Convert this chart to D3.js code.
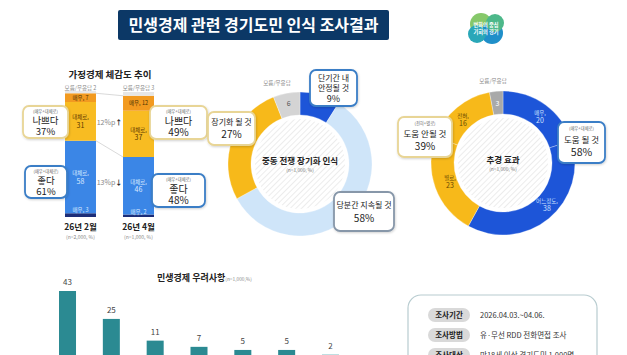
<!DOCTYPE html>
<html><head><meta charset="utf-8">
<script src="https://cdn.jsdelivr.net/npm/d3@7"></script>
<style>
html,body{margin:0;padding:0;background:#fff;}
svg{display:block;font-family:"Noto Sans CJK KR","Noto Sans",sans-serif;}
</style></head>
<body>
<svg id="c" width="627" height="355"></svg>
<script>
// ---------- DATA ----------
const titleText = "민생경제 관련 경기도민 인식 조사결과";
// household economy (stack bottom -> top)
const hhPeriods = ["26년 2월", "26년 4월"];
const hhSamples = ["(n=2,000, %)", "(n=1,000, %)"];
const hhVeryGood = [3, 2];
const hhGood = [58, 46];
const hhBad = [31, 37];
const hhVeryBad = [7, 12];
const hhUnknown = [2, 3];
const hhBadTotal = [37, 49];
const hhGoodTotal = [61, 48];
const hhChange = ["12%p", "13%p"];
// middle east war donut
const warLabels = ["단기간 내 안정될 것", "당분간 지속될 것", "장기화 될 것", "모름/무응답"];
const warValues = [9, 58, 27, 6];
// supplementary budget donut
const budgetLabels = ["매우", "어느정도", "별로", "전혀", "모름/무응답"];
const budgetValues = [20, 38, 23, 16, 3];
const budgetHelp = 58, budgetNoHelp = 39;
// concerns bar chart
const concernItems = ["항목1", "항목2", "항목3", "항목4", "항목5", "항목6", "항목7"];
const concernValues = [43, 25, 11, 7, 5, 5, 2];
// survey info
const infoKeys = ["조사기간", "조사방법", "조사대상"];
const infoVals = ["2026.04.03.~04.06.", "유·무선 RDD 전화면접 조사", "만18세 이상 경기도민 1,000명"];

// ---------- DRAW ----------
const svg = d3.select("#c");
const defs = svg.append("defs");
const pat = defs.append("pattern").attr("id","hatch").attr("patternUnits","userSpaceOnUse")
  .attr("width",4).attr("height",4).attr("patternTransform","rotate(45)");
pat.append("rect").attr("width",4).attr("height",4).attr("fill","#fff");
pat.append("line").attr("x1",0).attr("y1",0).attr("x2",0).attr("y2",4).attr("stroke","#e6e6e6").attr("stroke-width",1.5);
const sh = defs.append("filter").attr("id","shadow").attr("x","-20%").attr("y","-20%").attr("width","140%").attr("height","150%");
sh.append("feDropShadow").attr("dx",0.6).attr("dy",1).attr("stdDeviation",0.8).attr("flood-color","#000").attr("flood-opacity",0.18);

// title banner
svg.append("rect").attr("x",118).attr("y",10).attr("width",271).attr("height",30).attr("rx",2).attr("fill","#0c3866");
svg.append("text").attr("x",253.5).attr("y",31).attr("text-anchor","middle").attr("fill","#fff")
  .attr("font-size",16).attr("font-weight",700).text(titleText);

// logo
const logo = svg.append("g");
logo.append("circle").attr("cx",481).attr("cy",24).attr("r",11).attr("fill","#86c86a");
logo.append("circle").attr("cx",492).attr("cy",33).attr("r",11).attr("fill","#1f8fc9");
logo.append("circle").attr("cx",477).attr("cy",34).attr("r",9).attr("fill","#2aa7b8");
logo.append("circle").attr("cx",495).attr("cy",23).attr("r",9).attr("fill","#4db88a");
const lt = logo.append("text").attr("text-anchor","middle").attr("fill","#fff").attr("font-size",5.2).attr("font-weight",700);
lt.append("tspan").attr("x",486).attr("y",27).text("변화의 중심");
lt.append("tspan").attr("x",486).attr("dy",7).text("기회의 경기");

// multi-line text helper (one <text>, several tspans)
function mtext(parent,x,y,lines,anchor){
  const t = parent.append("text").attr("x",x).attr("y",y).attr("text-anchor",anchor||"middle");
  lines.forEach((l,i)=>{
    const s = t.append("tspan").attr("x",x).attr("font-size",l.fs).attr("fill",l.fill||"#222").attr("font-weight",l.fw||400).text(l.t);
    if(i>0) s.attr("dy",l.dy);
  });
  return t;
}

// ---- household stacked bars ----
svg.append("text").attr("x",110).attr("y",78).attr("text-anchor","middle").attr("font-size",9.5).attr("font-weight",700).attr("fill","#222").text("가정경제 체감도 추이");
const yH = d3.scaleLinear().domain([0,100]).range([217, 92]);
const xH = d3.scaleBand().domain(hhPeriods).range([65,154]).paddingInner(0.466).paddingOuter(0);
const keys = ["vg","g","b","vb","u"];
const colors = {vg:"#1c2d78", g:"#3b86e6", b:"#f8bc22", vb:"#f29a20", u:"#e6e6e6"};
const rows = hhPeriods.map((p,i)=>({p, vg:hhVeryGood[i], g:hhGood[i], b:hhBad[i], vb:hhVeryBad[i], u:hhUnknown[i]}));
const stack = d3.stack().keys(keys)(rows);
const gH = svg.append("g");
const bw = xH.bandwidth();
// connector lines
gH.append("line").attr("x1",xH(hhPeriods[0])+bw).attr("x2",xH(hhPeriods[1]))
  .attr("y1",yH(stack[3][0][1])).attr("y2",yH(stack[3][1][1])).attr("stroke","#cfcfcf").attr("stroke-width",0.8);
gH.append("line").attr("x1",xH(hhPeriods[0])+bw).attr("x2",xH(hhPeriods[1]))
  .attr("y1",yH(stack[1][0][1])).attr("y2",yH(stack[1][1][1])).attr("stroke","#cfcfcf").attr("stroke-width",0.8);
stack.forEach(s=>{
  gH.selectAll(null).data(s).enter().append("rect")
    .attr("x",d=>xH(d.data.p)).attr("width",bw)
    .attr("y",d=>yH(d[1])).attr("height",d=>yH(d[0])-yH(d[1]))
    .attr("fill",colors[s.key]);
});
// segment labels
rows.forEach((r,i)=>{
  const cx = xH(r.p)+bw/2;
  const st = k=>stack[keys.indexOf(k)][i];
  const mid = k=>(yH(st(k)[0])+yH(st(k)[1]))/2;
  gH.append("text").attr("x",cx).attr("y",mid("vb")+2).attr("text-anchor","middle").attr("font-size",5.5).attr("fill","#4a3000").text("매우, "+r.vb);
  mtext(gH,cx,mid("b")-2,[{t:"대체로,",fs:5.5,fill:"#5a3a00"},{t:r.b,fs:7,fill:"#5a3a00",dy:8.5}]);
  mtext(gH,cx,mid("g")-2,[{t:"대체로,",fs:5.5,fill:"#dbe9ff"},{t:r.g,fs:7,fill:"#dbe9ff",dy:8.5}]);
  gH.append("text").attr("x",cx).attr("y",yH(st("vg")[1])-0.8).attr("text-anchor","middle").attr("font-size",5.5).attr("fill","#dbe9ff").text("매우, "+r.vg);
  gH.append("text").attr("x",cx).attr("y",yH(100)-2.5).attr("text-anchor","middle").attr("font-size",5.5).attr("fill","#888").text("모름/무응답  "+r.u);
  mtext(gH,cx,230,[{t:r.p,fs:8.5,fw:700},{t:hhSamples[i],fs:5,fill:"#888",dy:9}]);
});
// change labels
const midX = (xH(hhPeriods[0])+bw + xH(hhPeriods[1]))/2;
gH.append("text").attr("x",midX).attr("y",125).attr("text-anchor","middle").attr("font-size",7).attr("fill","#888")
  .text(hhChange[0]).append("tspan").attr("fill","#222").attr("font-weight",700).text("↑");
gH.append("text").attr("x",midX).attr("y",185).attr("text-anchor","middle").attr("font-size",7).attr("fill","#888")
  .text(hhChange[1]).append("tspan").attr("fill","#222").attr("font-weight",700).text("↓");

// callout helper
function callout(x,y,w,h,border,firstDy,lines){
  const g = svg.append("g");
  g.append("rect").attr("x",x).attr("y",y).attr("width",w).attr("height",h).attr("rx",6)
    .attr("fill","#fff").attr("stroke",border).attr("stroke-width",1.8).attr("filter","url(#shadow)");
  mtext(g,x+w/2,y+firstDy,lines);
}
const yb = "#e8d596", bb = "#3b7ec6", gb = "#8797a9";
const small = t=>({t,fs:4.3,fill:"#666"});
callout(23,106,45,32,yb,6.8,[small("(매우+대체로)"),{t:"나쁘다",fs:9.5,dy:11.2},{t:hhBadTotal[0]+"%",fs:9.5,dy:11}]);
callout(25,166,42,32,bb,6.8,[small("(매우+대체로)"),{t:"좋다",fs:9.5,dy:11.2},{t:hhGoodTotal[0]+"%",fs:9.5,dy:11}]);
callout(150,106,57,33,yb,6.8,[small("(매우+대체로)"),{t:"나쁘다",fs:10,dy:11.7},{t:hhBadTotal[1]+"%",fs:10,dy:11.5}]);
callout(152,174,53,33,bb,6.8,[small("(매우+대체로)"),{t:"좋다",fs:10,dy:11.7},{t:hhGoodTotal[1]+"%",fs:10,dy:11.5}]);

// ---- donut helper ----
function donut(cx,cy,values,cols,title){
  const g = svg.append("g").attr("transform",`translate(${cx},${cy})`);
  const pie = d3.pie().sort(null).value(d=>d)(values);
  const arc = d3.arc().innerRadius(49).outerRadius(72);
  g.selectAll(null).data(pie).enter().append("path").attr("d",arc).attr("fill",(d,i)=>cols[i])
    .attr("stroke","rgba(255,255,255,0.5)").attr("stroke-width",0.6);
  g.append("circle").attr("r",45).attr("fill","url(#hatch)");
  mtext(g,0,0,[{t:title,fs:8.5,fw:700},{t:"(n=1,000, %)",fs:4.8,fill:"#777",dy:8}]);
  return {g, pie, arc};
}
// war donut
const d1 = donut(300,164,warValues,["#1d55d8","#cfe5f9","#f7b91a","#d4d4d4"],"중동 전쟁 장기화 인식");
const lab1 = d3.arc().innerRadius(61).outerRadius(61);
d1.g.append("text").attr("transform",`translate(${lab1.centroid(d1.pie[3])})`).attr("y",2).attr("text-anchor","middle")
  .attr("font-size",7).attr("fill","#555").text(warValues[3]);
d1.g.append("text").attr("x",-23).attr("y",-79).attr("text-anchor","middle").attr("font-size",5.5).attr("fill","#888").text(warLabels[3]);
callout(310,70,47,36,bb,10.5,[{t:"단기간 내",fs:8},{t:"안정될 것",fs:8,dy:10},{t:warValues[0]+"%",fs:9,dy:11}]);
callout(208,112,47,33,yb,13,[{t:warLabels[2],fs:8},{t:warValues[2]+"%",fs:10,dy:13}]);
callout(334,192,60,39,gb,16,[{t:warLabels[1],fs:8},{t:warValues[1]+"%",fs:10,dy:14}]);

// budget donut
const d2 = donut(503,163,budgetValues,["#1d55d8","#1d55d8","#f7b91a","#f7b91a","#a9a9a9"],"추경 효과");
const lab2 = d3.arc().innerRadius(60).outerRadius(60);
const bTxt = [{i:0,c:"#cfe0ff",x:37,y:-48},{i:1,c:"#cfe0ff",x:44,y:40},{i:2,c:"#6a4a00",x:-53,y:17},{i:3,c:"#6a4a00",x:-40,y:-45}];
bTxt.forEach(b=>{
  mtext(d2.g,b.x,b.y,[{t:budgetLabels[b.i]+",",fs:5.5,fill:b.c},{t:budgetValues[b.i],fs:7,fill:b.c,dy:8}]);
});
d2.g.append("text").attr("transform",`translate(${lab2.centroid(d2.pie[4])})`).attr("y",2.5).attr("text-anchor","middle")
  .attr("font-size",7).attr("fill","#fff").text(budgetValues[4]);
d2.g.append("text").attr("x",-10).attr("y",-80).attr("text-anchor","middle").attr("font-size",5.5).attr("fill","#888").text(budgetLabels[4]);
callout(398,117,54,40,yb,7.5,[small("(전혀+별로)"),{t:"도움 안될 것",fs:8.5,dy:12.5},{t:budgetNoHelp+"%",fs:10,dy:13}]);
callout(558,122,47,41,bb,8,[small("(매우+대체로)"),{t:"도움 될 것",fs:8.5,dy:12.5},{t:budgetHelp+"%",fs:10.5,dy:13.5}]);

// ---- concerns bar chart ----
const gB = svg.append("g");
const title2 = gB.append("text").attr("x",157).attr("y",281).attr("font-size",9).attr("font-weight",700).attr("fill","#222").text("민생경제 우려사항");
title2.append("tspan").attr("font-size",4.8).attr("font-weight",400).attr("fill","#888").text("(n=1,000,%)");
const xB = d3.scaleBand().domain(concernItems).range([45.6,352.4]).paddingInner(0.612).paddingOuter(0.306);
const yB = d3.scaleLinear().domain([0,43]).range([357.7,291]);
gB.selectAll(null).data(concernValues).enter().append("rect")
  .attr("x",(d,i)=>xB(concernItems[i])).attr("width",xB.bandwidth())
  .attr("y",d=>yB(d)).attr("height",d=>yB(0)-yB(d)).attr("fill",(d,i)=>i===6?"#5fb0b6":"#2b8a92");
gB.selectAll(null).data(concernValues).enter().append("text")
  .attr("x",(d,i)=>xB(concernItems[i])+xB.bandwidth()/2).attr("y",d=>yB(d)-6)
  .attr("text-anchor","middle").attr("font-size",8).attr("fill","#444").text(d=>d);

// ---- info box ----
const gI = svg.append("g");
gI.append("rect").attr("x",408).attr("y",295).attr("width",189).attr("height",90).attr("rx",13)
  .attr("fill","#fff").attr("stroke","#b8ccd0").attr("stroke-width",1.2);
infoKeys.forEach((k,i)=>{
  const y = 308 + i*20;
  gI.append("rect").attr("x",428).attr("y",y).attr("width",42).attr("height",14).attr("rx",7).attr("fill","#d9d9d9");
  gI.append("text").attr("x",449).attr("y",y+10).attr("text-anchor","middle").attr("font-size",7.5).attr("font-weight",700).attr("fill","#222").text(k);
  gI.append("text").attr("x",480).attr("y",y+10).attr("font-size",7.5).attr("fill","#333").text(infoVals[i]);
});
</script>
</body></html>
